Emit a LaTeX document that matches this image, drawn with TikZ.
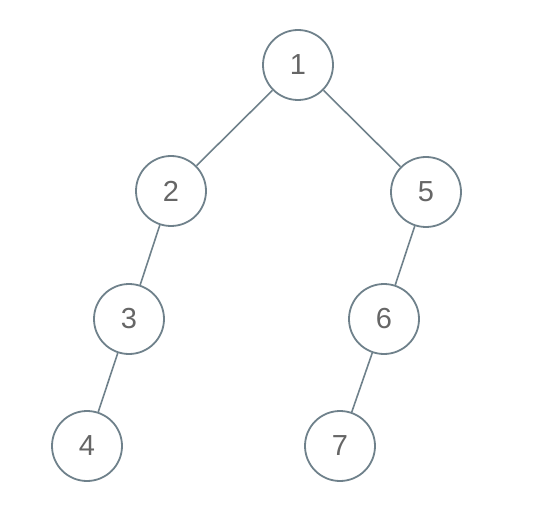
\documentclass[tikz,border=0pt]{standalone}
\usepackage{fontspec}
\setmainfont{Liberation Sans}
\definecolor{edgecol}{HTML}{6F818B}
\definecolor{txtcol}{HTML}{666666}
\begin{document}
\begin{tikzpicture}[x=1pt,y=-1pt,
  tnode/.style={circle,draw=edgecol,line width=1.8pt,minimum size=70pt,inner sep=0pt,
    text=txtcol,font=\fontsize{29}{29}\selectfont},
  tedge/.style={draw=edgecol,line width=1.6pt}]
\useasboundingbox (0,0) rectangle (536,524);
\node[tnode] (n1) at (298,65) {1};
\node[tnode] (n2) at (171,191) {2};
\node[tnode] (n5) at (426,192) {5};
\node[tnode] (n3) at (129,319) {3};
\node[tnode] (n6) at (384,319) {6};
\node[tnode] (n4) at (87,446) {4};
\node[tnode] (n7) at (340,446) {7};
\draw[tedge] (n1) -- (n2);
\draw[tedge] (n1) -- (n5);
\draw[tedge] (n2) -- (n3);
\draw[tedge] (n3) -- (n4);
\draw[tedge] (n5) -- (n6);
\draw[tedge] (n6) -- (n7);
\end{tikzpicture}
\end{document}
